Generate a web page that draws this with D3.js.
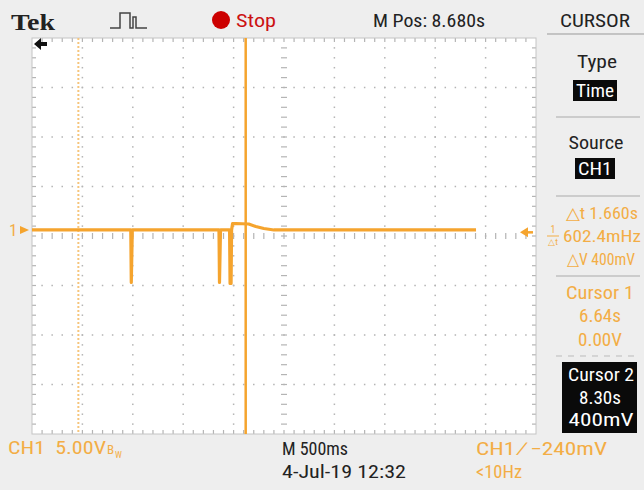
<!DOCTYPE html>
<html><head><meta charset="utf-8">
<script src="https://cdn.jsdelivr.net/npm/d3@7"></script>
<style>
html,body{margin:0;padding:0;background:#eeeeee;}
svg{display:block;}
</style></head>
<body>
<svg id="c" width="644" height="490"></svg>
<script>
// ---- data ----
const timeDomain = [6.18, 11.18];          // seconds across the 10 divisions (M Pos 8.680s, 500ms/div)
const voltDomain = [-20.61, 19.39];        // volts across 8 divisions (5.00V/div)
const traceTime = [6.18, 7.160, 7.165, 7.175, 8.035, 8.040, 8.050, 8.140, 8.145, 8.150, 8.155, 8.160, 8.170, 8.200, 8.330, 8.400, 8.480, 8.580, 9.500, 10.585];
const traceVolt = [0.0,  0.0,   -5.3,  0.0,   0.0,   -5.3,  0.0,   0.0,   -5.4,  0.0,   -5.4,  0.0,   0.65,  0.65,  0.6,   0.35,  0.15,  0.0,   0.0,  0.0];
const cursorTimes = [6.64, 8.30];
const cursorVolts = [0.00, 0.40];
const triggerLevel = -0.24;
const topLabels = {tek:"Tek", stop:"Stop", mpos:"M Pos: 8.680s", menu:"CURSOR"};
const sideLabels = ["Type","Time","Source","CH1","\u25B3t 1.660s","602.4mHz","\u25B3V 400mV","Cursor 1","6.64s","0.00V","Cursor 2","8.30s","400mV"];
const bottomLabels = ["CH1  5.00V","M 500ms","4-Jul-19 12:32","CH1 \u2215 \u2212240mV","<10Hz"];

// ---- layout ----
const svg = d3.select("#c");
const FONT = "'Liberation Sans Narrow','Roboto Condensed','Arial Narrow',Roboto,'Liberation Sans',sans-serif";
const X0=32, X1=536, Y0=38, Y1=434;
const x = d3.scaleLinear().domain(timeDomain).range([X0,X1]);
const y = d3.scaleLinear().domain(voltDomain).range([Y1,Y0]);
const ORANGE="#f5a42e", TXT="#f3ad45", GRID="#b4b4b4";

svg.append("rect").attr("width",644).attr("height",490).attr("fill","#eeeeee");
svg.append("rect").attr("x",X0).attr("y",Y0).attr("width",X1-X0).attr("height",Y1-Y0).attr("fill","#ffffff");

const g = svg.append("g");
const divX = d3.range(11).map(i => x(timeDomain[0] + i*(timeDomain[1]-timeDomain[0])/10));
const divY = d3.range(9).map(i => y(voltDomain[0] + i*(voltDomain[1]-voltDomain[0])/8));
const dxs = (divX[1]-divX[0])/5, dys = (divY[0]-divY[1])/5;
const xc = divX[5], yc = divY[4];

// dotted grid
divX.forEach((gx,i)=>{ if(i===0||i===10||i===5) return;
  for(let k=1;k<40;k++){ g.append("rect").attr("x",gx-0.75).attr("y",Y0+k*dys-0.75).attr("width",1.5).attr("height",1.5).attr("fill",GRID);} });
divY.forEach((gy,i)=>{ if(i===0||i===8||i===4) return;
  for(let k=1;k<50;k++){ g.append("rect").attr("x",X0+k*dxs-0.75).attr("y",gy-0.75).attr("width",1.5).attr("height",1.5).attr("fill",GRID);} });
// center crosshair ticks
for(let k=1;k<40;k++){ g.append("line").attr("x1",xc-3).attr("x2",xc+3).attr("y1",Y0+k*dys).attr("y2",Y0+k*dys).attr("stroke",GRID).attr("stroke-width",1.2);}
for(let k=1;k<50;k++){ g.append("line").attr("x1",X0+k*dxs).attr("x2",X0+k*dxs).attr("y1",yc-3).attr("y2",yc+3).attr("stroke",GRID).attr("stroke-width",1.2);}
// edge ticks
for(let k=1;k<50;k++){ const tx=X0+k*dxs;
  g.append("line").attr("x1",tx).attr("x2",tx).attr("y1",Y0).attr("y2",Y0+4).attr("stroke",GRID).attr("stroke-width",1.2);
  g.append("line").attr("x1",tx).attr("x2",tx).attr("y1",Y1-4).attr("y2",Y1).attr("stroke",GRID).attr("stroke-width",1.2);}
for(let k=1;k<40;k++){ const ty=Y0+k*dys;
  g.append("line").attr("x1",X0).attr("x2",X0+4).attr("y1",ty).attr("y2",ty).attr("stroke",GRID).attr("stroke-width",1.2);
  g.append("line").attr("x1",X1-4).attr("x2",X1).attr("y1",ty).attr("y2",ty).attr("stroke",GRID).attr("stroke-width",1.2);}
svg.append("rect").attr("x",X0).attr("y",Y0).attr("width",X1-X0).attr("height",Y1-Y0).attr("fill","none").attr("stroke","#c4c4c4").attr("stroke-width",1);

// cursors
svg.append("line").attr("x1",x(cursorTimes[0])).attr("x2",x(cursorTimes[0])).attr("y1",Y0).attr("y2",Y1)
  .attr("stroke","#f6c57c").attr("stroke-width",2).attr("stroke-dasharray","2,2");
svg.append("line").attr("x1",x(cursorTimes[1])).attr("x2",x(cursorTimes[1])).attr("y1",Y0).attr("y2",Y1)
  .attr("stroke",ORANGE).attr("stroke-width",2.5);

// trace
const line = d3.line().x((d,i)=>x(traceTime[i])).y((d,i)=>y(traceVolt[i]));
svg.append("path").datum(traceTime).attr("d",line).attr("fill","none").attr("stroke",ORANGE)
  .attr("stroke-width",3.2).attr("stroke-linejoin","round");

// helper for text
function T(parent,str,xx,yy,fill,len,opts){
  opts = opts||{};
  const t = parent.append("text").attr("x",xx).attr("y",yy).attr("fill",fill)
    .attr("style",`font-family:${opts.family||FONT};font-size:${opts.size||18}px;font-weight:${opts.weight||"normal"}`)
    .attr("text-anchor",opts.anchor||"start").attr("xml:space","preserve").text(str);
  if(len) t.attr("textLength",len).attr("lengthAdjust","spacingAndGlyphs");
  return t;
}

// ground marker
T(svg,"1",9,y(0)+6,TXT,null,{size:17});
svg.append("path").attr("d",`M20,${y(0)-4} L29,${y(0)} L20,${y(0)+4} Z`).attr("fill",ORANGE);
// trigger level marker (right)
const ty = y(triggerLevel);
svg.append("path").attr("d",`M520,${ty} L528,${ty-5} L528,${ty+5} Z`).attr("fill",ORANGE);
svg.append("line").attr("x1",526).attr("x2",533).attr("y1",ty).attr("y2",ty).attr("stroke",ORANGE).attr("stroke-width",2.5);
// left arrow (trigger off screen)
svg.append("path").attr("d","M34,44 L41,38 L41,42 L47,42 L47,46 L41,46 L41,50 Z").attr("fill","#111");

// top bar
T(svg,topLabels.tek,11,30,"#222",44,{family:"'Liberation Serif','DejaVu Serif',serif",weight:"bold",size:24});
svg.append("path").attr("d","M110,28 L120,28 L120,13 L130,13 L130,28 L133,28 L133,17 L136,17 L136,28 L147,28")
  .attr("fill","none").attr("stroke","#444").attr("stroke-width",1.5);
svg.append("circle").attr("cx",221).attr("cy",20).attr("r",9).attr("fill","#cc0000");
T(svg,topLabels.stop,236,27,"#cc1111",40,{size:19});
T(svg,topLabels.mpos,373,27,"#222",112,{size:19});
T(svg,topLabels.menu,560,27,"#222",70,{size:19});
svg.append("line").attr("x1",547).attr("x2",644).attr("y1",34).attr("y2",34).attr("stroke","#999");

// side panel boxes first
svg.append("rect").attr("x",573).attr("y",80).attr("width",44).attr("height",21).attr("fill","#0a0a0a");
svg.append("rect").attr("x",575).attr("y",158).attr("width",40).attr("height",21).attr("fill","#0a0a0a");
svg.append("rect").attr("x",562).attr("y",362).attr("width",75).attr("height",71).attr("fill","#0a0a0a");
svg.append("line").attr("x1",556).attr("x2",640).attr("y1",117).attr("y2",117).attr("stroke","#aaa");
svg.append("line").attr("x1",556).attr("x2",640).attr("y1",196).attr("y2",196).attr("stroke","#aaa");
svg.append("line").attr("x1",556).attr("x2",640).attr("y1",276).attr("y2",276).attr("stroke","#aaa");
svg.append("line").attr("x1",556).attr("x2",640).attr("y1",356).attr("y2",356).attr("stroke","#bbb").attr("stroke-dasharray","6,6");

const side = svg.append("g");
function st(t,cx,cy,fill,len,size){ return T(side,t,cx,cy+6,fill,len,{anchor:"middle",size:size||18}); }
st(sideLabels[0],597,62,"#222",40);
st(sideLabels[1],595,91,"#fff",38);
st(sideLabels[2],596,143,"#222",55);
st(sideLabels[3],595,169,"#fff",34);
st(sideLabels[4],602,213,TXT,72,17);
T(side,"1",553,233,TXT,null,{size:10,anchor:"middle"});
svg.append("line").attr("x1",547).attr("x2",559).attr("y1",236).attr("y2",236).attr("stroke",TXT);
T(side,"\u25B3t",553,245,TXT,null,{size:9,anchor:"middle"});
T(side,sideLabels[5],563,242,TXT,78,{size:17});
st(sideLabels[6],601,259,TXT,68,17);
st(sideLabels[7],600,293,TXT,68);
st(sideLabels[8],600,316,TXT,42);
st(sideLabels[9],600,340,TXT,44);
st(sideLabels[10],601,375,"#fff",66);
st(sideLabels[11],600,398,"#fff",42);
st(sideLabels[12],601,420,"#fff",65);

// bottom bar
const bot = svg.append("g");
T(bot,bottomLabels[0],8,454,TXT,98);
T(bot,"B",107,454,TXT,null,{size:13});
T(bot,"W",115,458,TXT,null,{size:9});
T(bot,bottomLabels[1],282,455,"#222",66);
T(bot,bottomLabels[2],282,478,"#222",124);
T(bot,bottomLabels[3],476,455,TXT,131);
T(bot,bottomLabels[4],476,478,TXT,46);
</script>
</body></html>
